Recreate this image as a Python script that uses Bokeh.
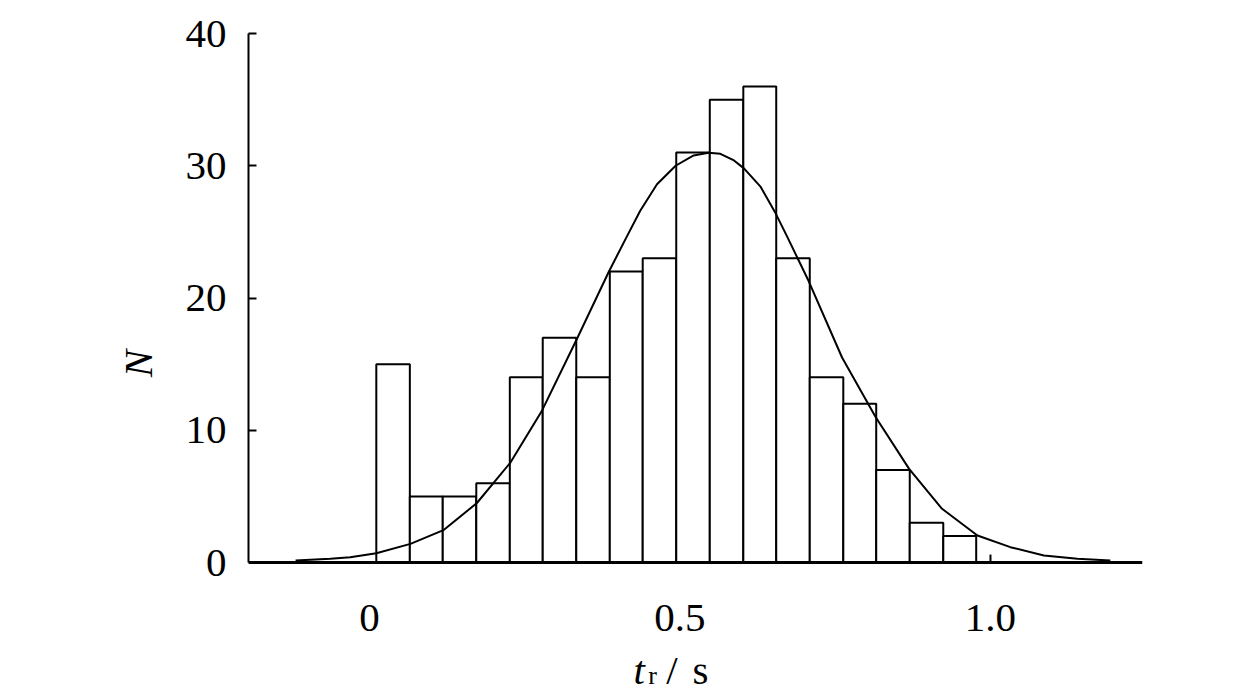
from bokeh.plotting import figure
from bokeh.models import Range1d, FixedTicker, Label, Span
from bokeh.core.properties import value
from bokeh.embed import file_html
from bokeh.resources import INLINE

# ---- data ----
bin_edges = [0.011, 0.065, 0.118, 0.172, 0.226, 0.279, 0.333, 0.387, 0.440, 0.494,
             0.548, 0.602, 0.655, 0.709, 0.763, 0.816, 0.870, 0.924, 0.977]
counts = [15, 5, 5, 6, 14, 17, 14, 22, 23, 31, 35, 36, 23, 14, 12, 7, 3, 2]

curve_x = [-0.119, -0.063, -0.031, 0.011, 0.066, 0.120, 0.173, 0.227, 0.278, 0.334,
           0.385, 0.415, 0.436, 0.463, 0.493, 0.522, 0.546, 0.565, 0.587, 0.603,
           0.630, 0.654, 0.673, 0.707, 0.761, 0.815, 0.869, 0.922, 0.979, 1.032,
           1.086, 1.140, 1.193]
curve_y = [0.15, 0.28, 0.40, 0.70, 1.41, 2.47, 4.50, 7.56, 11.5, 16.9,
           21.95, 24.7, 26.6, 28.6, 30.0, 30.78, 30.98, 30.9, 30.4, 29.8,
           28.4, 26.4, 24.6, 21.3, 15.5, 11.0, 7.08, 4.06, 2.04, 1.16,
           0.53, 0.28, 0.15]

x_ticks = [0, 0.5, 1.0]
x_tick_labels = ["0", "0.5", "1.0"]
x_tick_marks = [1.0]
y_ticks = [0, 10, 20, 30, 40]

FONT = "Liberation Serif"
FS = "41px"

# frame: y in [-9.9, 40] so the area below the zero line (tick labels, axis title)
# is inside the frame; the visible y axis is limited to 0..40 with bounds.
p = figure(width=1244, height=693,
           x_range=Range1d(-0.1948, 1.2448), y_range=Range1d(-9.905, 40),
           output_backend="svg", toolbar_location=None,
           min_border_left=248, min_border_right=102,
           min_border_top=33, min_border_bottom=0)
p.outline_line_color = None
p.grid.visible = False
p.background_fill_color = "white"
p.border_fill_color = "white"
p.xaxis.visible = False

# bars
p.quad(left=bin_edges[:-1], right=bin_edges[1:], bottom=[0] * len(counts), top=counts,
       fill_color="white", line_color="black", line_width=2)

# fitted curve
p.line(curve_x, curve_y, line_color="black", line_width=2, line_join="round")

# x axis line at N = 0
p.add_layout(Span(location=0, dimension="width", line_color="black", line_width=3))

# x tick mark (only the one at 1.0 is drawn in the reference)
p.segment(x0=x_tick_marks, x1=x_tick_marks, y0=[0] * len(x_tick_marks),
          y1=[0.6] * len(x_tick_marks), line_color="black", line_width=2)

# x tick labels
p.text(x=x_ticks, y=[-4.16] * len(x_ticks), text=x_tick_labels,
       text_font=value(FONT), text_font_size=value(FS), text_color="black",
       text_align="center", text_baseline="alphabetic")

# y axis
ya = p.yaxis[0]
ya.bounds = (0, 40)
ya.ticker = FixedTicker(ticks=y_ticks)
ya.major_tick_in = 8
ya.major_tick_out = 0
ya.minor_tick_in = 0
ya.minor_tick_out = 0
ya.major_tick_line_width = 2
ya.axis_line_width = 2
ya.axis_line_color = "black"
ya.major_label_text_font = FONT
ya.major_label_text_font_size = FS
ya.major_label_text_color = "black"
ya.major_label_standoff = 22
ya.axis_label = "N"
ya.axis_label_text_font = FONT
ya.axis_label_text_font_style = "italic"
ya.axis_label_text_font_size = FS
ya.axis_label_text_color = "black"
ya.axis_label_standoff = 22

# x axis title: t_r / s
common = dict(text_font=FONT, text_color="black", text_baseline="alphabetic")
p.add_layout(Label(x=0.425, y=-8.10, text="t", text_font_style="italic",
                   text_font_size=FS, **common))
p.add_layout(Label(x=0.449, y=-8.55, text="r", text_font_size="26px", **common))
p.add_layout(Label(x=0.478, y=-8.10, text="/", text_font_size=FS, **common))
p.add_layout(Label(x=0.520, y=-8.10, text="s", text_font_size=FS, **common))

open("out.html", "w").write(file_html(p, INLINE))
